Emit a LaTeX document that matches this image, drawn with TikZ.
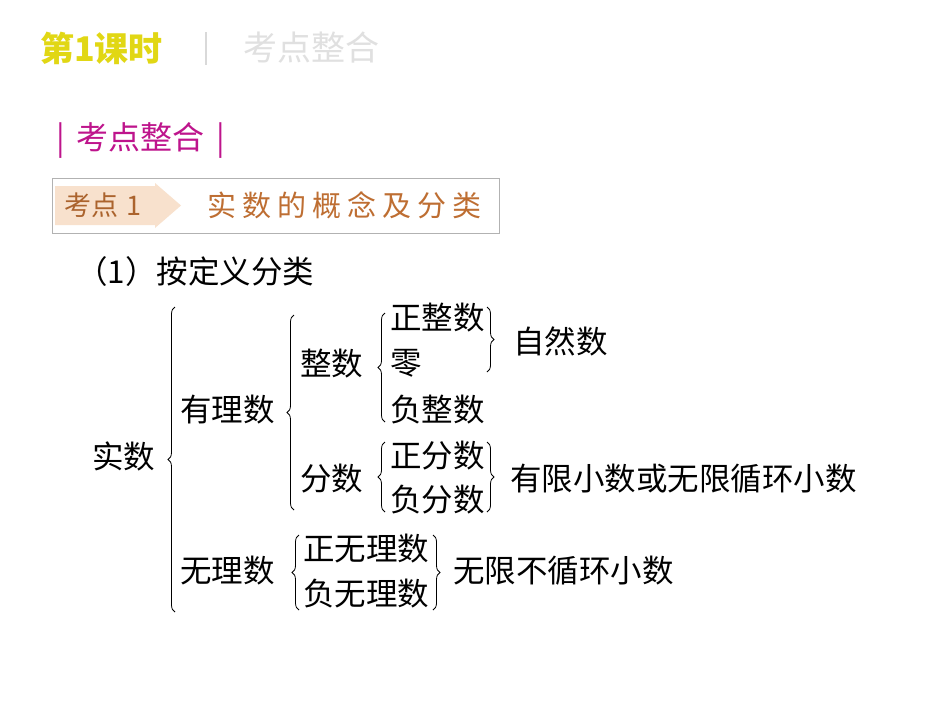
\documentclass[tikz,border=0pt]{standalone}
\usepackage{fontspec}
\setmainfont{Noto Sans CJK SC}
\usetikzlibrary{decorations.pathreplacing}
\definecolor{mag}{RGB}{190,20,140}
\definecolor{brn}{RGB}{190,110,50}
\definecolor{peach}{RGB}{248,225,205}
\definecolor{yel}{RGB}{225,215,20}
\tikzset{
 t/.style={anchor=west,inner sep=0pt,font=\fontsize{31.5}{31.5}\selectfont},
 br/.style={decorate,decoration={brace,amplitude=7pt},line width=0.8pt},
 hd/.style={anchor=west,inner sep=0pt,font=\fontsize{34}{34}\selectfont\bfseries}
}
\begin{document}
\begin{tikzpicture}[x=1pt,y=-1pt]
\useasboundingbox[fill=white] (0,0) rectangle (950,713);
\node[hd,text=yel] (h1) at (40,48) {第1课时};
\draw[black!15,line width=1.2pt] (206,32) -- (206,65);
\node[anchor=west,inner sep=0pt,font=\fontsize{34}{34}\selectfont,text=black!12] (h2) at (243,48) {考点整合};
\node[anchor=west,inner sep=0pt,font=\fontsize{32}{32}\selectfont,text=mag] (h3) at (56,140) {|\hspace{12pt}考点整合\hspace{12pt}|};
\node[draw=black!30,line width=0.8pt,minimum width=447pt,minimum height=55pt,anchor=north west,inner sep=0pt] (box) at (52,178) {};
\fill[peach] (55,186) -- (155,186) -- (155,183) -- (181,205.5) -- (155,228) -- (155,225) -- (55,225) -- cycle;
\node[anchor=west,inner sep=0pt,font=\fontsize{27}{27}\selectfont,text=brn!90!black] (k1) at (64,205) {考点\hspace{8pt}1};
\node[anchor=west,inner sep=0pt,font=\fontsize{29}{29}\selectfont,text=brn] (k2) at (207,205) {实\hspace{6pt}数\hspace{6pt}的\hspace{6pt}概\hspace{6pt}念\hspace{6pt}及\hspace{6pt}分\hspace{6pt}类};
\node[t] (p1) at (76,272) {（1）按定义分类};
\node[t] (a) at (92,456) {实数};
\draw[br] (175,612) -- (175,307);
\node[t] (b) at (180,410) {有理数};
\draw[br] (294,510) -- (294,315);
\node[t] (c) at (300,364) {整数};
\draw[br] (385,422) -- (385,313);
\node[t] (c1) at (390,318) {正整数};
\node[t] (c2) at (390,363) {零};
\node[t] (c3) at (390,410) {负整数};
\draw[br] (487,307) -- (487,372);
\node[t] (c4) at (513,341) {自然数};
\node[t] (d) at (300,479) {分数};
\draw[br] (385,512) -- (385,442);
\node[t] (d1) at (390,456) {正分数};
\node[t] (d2) at (390,500) {负分数};
\draw[br] (487,442) -- (487,512);
\node[t] (d3) at (510,479) {有限小数或无限循环小数};
\node[t] (e) at (180,571) {无理数};
\draw[br] (299,610) -- (299,535);
\node[t] (e1) at (303,549) {正无理数};
\node[t] (e2) at (303,594) {负无理数};
\draw[br] (433,535) -- (433,610);
\node[t] (e3) at (453,571) {无限不循环小数};
\end{tikzpicture}
\end{document}
